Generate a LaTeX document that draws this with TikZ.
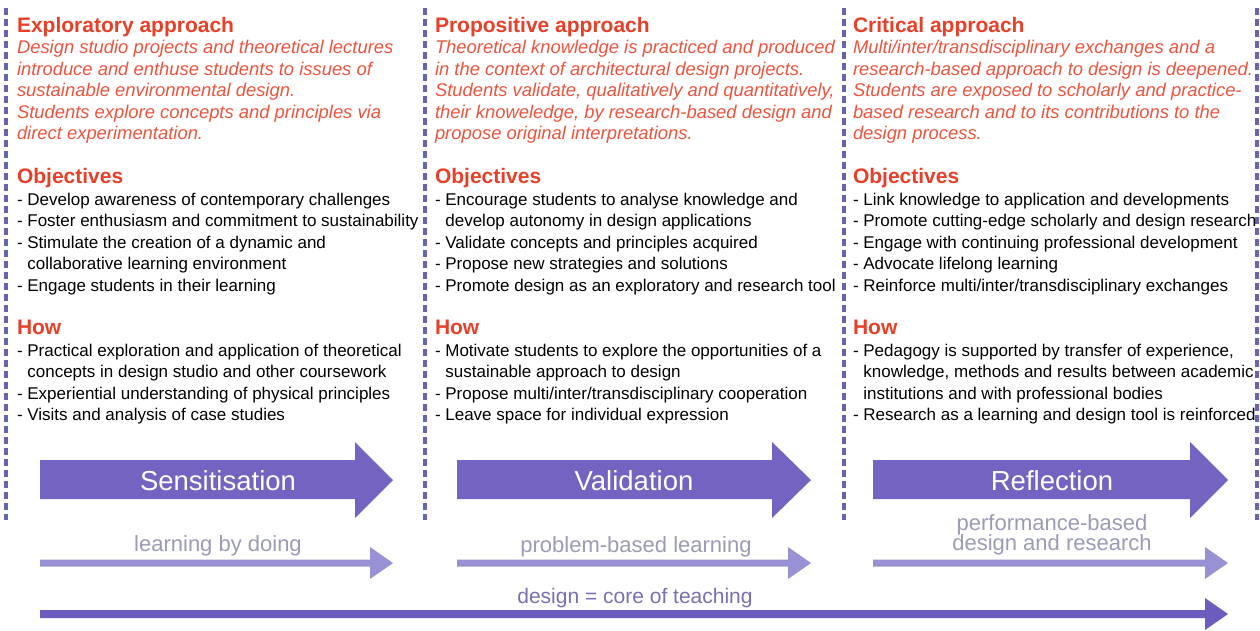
\documentclass[tikz,border=0pt]{standalone}
\usepackage{fontspec}
\setmainfont{Liberation Sans}
\definecolor{dashcol}{RGB}{102,100,176}
\definecolor{bigarrow}{RGB}{117,99,193}
\definecolor{thinarrow}{RGB}{152,146,212}
\definecolor{bottomarrow}{RGB}{108,92,190}
\definecolor{labelgray}{RGB}{155,155,182}
\definecolor{designtext}{RGB}{120,112,178}
\definecolor{headred}{RGB}{232,64,40}
\definecolor{itred}{RGB}{236,84,62}
\begin{document}
\begin{tikzpicture}[x=1pt,y=-1pt,
  every node/.style={inner sep=0pt,outer sep=0pt},
  head/.style={anchor=base west,text=headred,font=\fontsize{21}{24}\selectfont\bfseries},
  ital/.style={anchor=base west,text=itred,font=\fontsize{18.4}{21.5}\selectfont\itshape},
  body/.style={anchor=base west,text=black,font=\fontsize{17}{21.6}\selectfont},
  divider/.style={draw=dashcol,line width=3.2pt,dash pattern=on 7pt off 4pt},
  bigfill/.style={fill=bigarrow},
  thinfill/.style={fill=thinarrow},
  bottomfill/.style={fill=bottomarrow},
  bigtext/.style={anchor=base,text=white,font=\fontsize{27.5}{30}\selectfont},
  lbl/.style={anchor=base,text=labelgray,font=\fontsize{22}{20}\selectfont,align=center},
  designlbl/.style={anchor=base,text=designtext,font=\fontsize{21}{24}\selectfont}
]
\useasboundingbox[fill=white] (0,0) rectangle (1260,630);

% dashed dividers
\draw[divider] (6,8) -- (6,520);
\draw[divider] (425,8) -- (425,520);
\draw[divider] (844,8) -- (844,520);
\draw[divider] (1257,8) -- (1257,520);

% ---------- Column 1 ----------
\node[head] (h1) at (17,32) {Exploratory approach};
\node[ital] (i1a) at (17,53.5) {Design studio projects and theoretical lectures};
\node[ital] (i1b) at (17,75) {introduce and enthuse students to issues of};
\node[ital] (i1c) at (17,96.5) {sustainable environmental design.};
\node[ital] (i1d) at (17,118) {Students explore concepts and principles via};
\node[ital] (i1e) at (17,139.5) {direct experimentation.};
\node[head] (o1) at (17,183) {Objectives};
\node[body] (o1a) at (17,205) {-~Develop awareness of contemporary challenges};
\node[body] (o1b) at (17,226.6) {-~Foster enthusiasm and commitment to sustainability};
\node[body] (o1c) at (17,248.2) {-~Stimulate the creation of a dynamic and};
\node[body] (o1d) at (17,269.8) {\hphantom{-~}collaborative learning environment};
\node[body] (o1e) at (17,291.4) {-~Engage students in their learning};
\node[head] (w1) at (17,334) {How};
\node[body] (w1a) at (17,356) {-~Practical exploration and application of theoretical};
\node[body] (w1b) at (17,377.6) {\hphantom{-~}concepts in design studio and other coursework};
\node[body] (w1c) at (17,399.2) {-~Experiential understanding of physical principles};
\node[body] (w1d) at (17,420.8) {-~Visits and analysis of case studies};

% ---------- Column 2 ----------
\node[head] (h2) at (435,32) {Propositive approach};
\node[ital] (i2a) at (435,53.5) {Theoretical knowledge is practiced and produced};
\node[ital] (i2b) at (435,75) {in the context of architectural design projects.};
\node[ital] (i2c) at (435,96.5) {Students validate, qualitatively and quantitatively,};
\node[ital] (i2d) at (435,118) {their knoweledge, by research-based design and};
\node[ital] (i2e) at (435,139.5) {propose original interpretations.};
\node[head] (o2) at (435,183) {Objectives};
\node[body] (o2a) at (435,205) {-~Encourage students to analyse knowledge and};
\node[body] (o2b) at (435,226.6) {\hphantom{-~}develop autonomy in design applications};
\node[body] (o2c) at (435,248.2) {-~Validate concepts and principles acquired};
\node[body] (o2d) at (435,269.8) {-~Propose new strategies and solutions};
\node[body] (o2e) at (435,291.4) {-~Promote design as an exploratory and research tool};
\node[head] (w2) at (435,334) {How};
\node[body] (w2a) at (435,356) {-~Motivate students to explore the opportunities of a};
\node[body] (w2b) at (435,377.6) {\hphantom{-~}sustainable approach to design};
\node[body] (w2c) at (435,399.2) {-~Propose multi/inter/transdisciplinary cooperation};
\node[body] (w2d) at (435,420.8) {-~Leave space for individual expression};

% ---------- Column 3 ----------
\node[head] (h3) at (853,32) {Critical approach};
\node[ital] (i3a) at (853,53.5) {Multi/inter/transdisciplinary exchanges and a};
\node[ital] (i3b) at (853,75) {research-based approach to design is deepened.};
\node[ital] (i3c) at (853,96.5) {Students are exposed to scholarly and practice-};
\node[ital] (i3d) at (853,118) {based research and to its contributions to the};
\node[ital] (i3e) at (853,139.5) {design process.};
\node[head] (o3) at (853,183) {Objectives};
\node[body] (o3a) at (853,205) {-~Link knowledge to application and developments};
\node[body] (o3b) at (853,226.6) {-~Promote cutting-edge scholarly and design research};
\node[body] (o3c) at (853,248.2) {-~Engage with continuing professional development};
\node[body] (o3d) at (853,269.8) {-~Advocate lifelong learning};
\node[body] (o3e) at (853,291.4) {-~Reinforce multi/inter/transdisciplinary exchanges};
\node[head] (w3) at (853,334) {How};
\node[body] (w3a) at (853,356) {-~Pedagogy is supported by transfer of experience,};
\node[body] (w3b) at (853,377.6) {\hphantom{-~}knowledge, methods and results between academic};
\node[body] (w3c) at (853,399.2) {\hphantom{-~}institutions and with professional bodies};
\node[body] (w3d) at (853,420.8) {-~Research as a learning and design tool is reinforced};

% ---------- Big block arrows ----------
\fill[bigfill] (40,460) -- (355,460) -- (355,442) -- (393,480) -- (355,518) -- (355,499) -- (40,499) -- cycle;
\fill[bigfill] (457,460) -- (772,460) -- (772,442) -- (811,480) -- (772,518) -- (772,499) -- (457,499) -- cycle;
\fill[bigfill] (873,460) -- (1190,460) -- (1190,442) -- (1228,480) -- (1190,518) -- (1190,499) -- (873,499) -- cycle;
\node[bigtext] (sens) at (218,490) {Sensitisation};
\node[bigtext] (vali) at (634,490) {Validation};
\node[bigtext] (refl) at (1052,490) {Reflection};

% ---------- Thin arrows ----------
\fill[thinfill] (40,559.5) -- (370,559.5) -- (370,547) -- (393,563) -- (370,579) -- (370,566.5) -- (40,566.5) -- cycle;
\fill[thinfill] (457,559.5) -- (788,559.5) -- (788,547) -- (811,563) -- (788,579) -- (788,566.5) -- (457,566.5) -- cycle;
\fill[thinfill] (873,559.5) -- (1205,559.5) -- (1205,547) -- (1228,563) -- (1205,579) -- (1205,566.5) -- (873,566.5) -- cycle;
\node[lbl] (lbd) at (218,551) {learning by doing};
\node[lbl] (pbl) at (636,552) {problem-based learning};
\node[lbl] (pbd1) at (1052,530) {performance-based};
\node[lbl] (pbd2) at (1052,550) {design and research};

% ---------- Bottom arrow ----------
\fill[bottomfill] (40,610) -- (1205,610) -- (1205,598) -- (1228,614) -- (1205,630) -- (1205,618) -- (40,618) -- cycle;
\node[designlbl] (core) at (635,603) {design = core of teaching};
\end{tikzpicture}
\end{document}
